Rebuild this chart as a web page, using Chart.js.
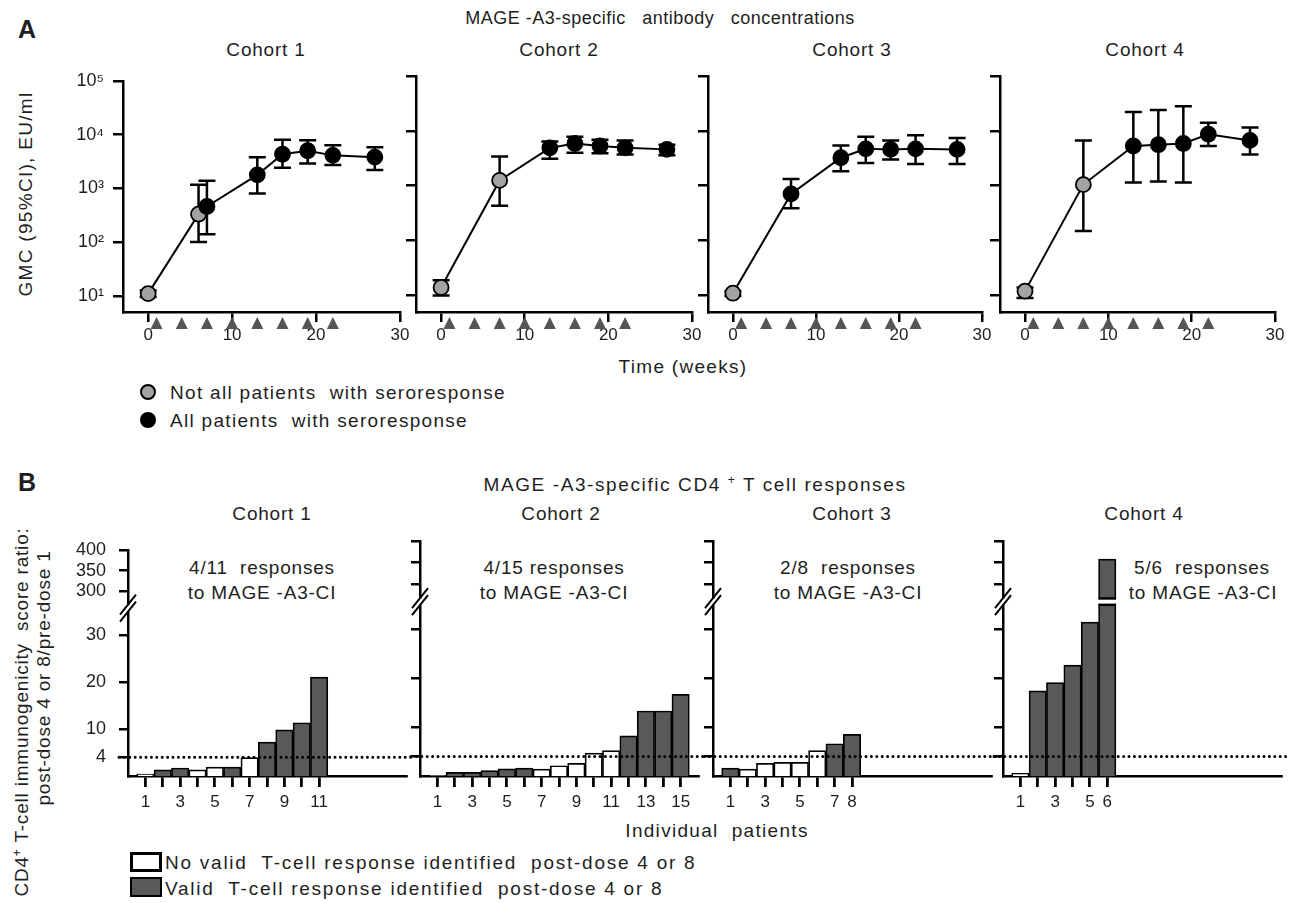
<!doctype html>
<html lang="en">
  <head>
    <meta charset="UTF-8" />
    <title>MAGE-A3 antibody and CD4+ T cell responses</title>
    <script src="https://cdn.jsdelivr.net/npm/chart.js"></script>
    <style>
      body {
        margin: 0;
        width: 1297px;
        height: 903px;
        position: relative;
        overflow: hidden;
        background: #fff;
        font-family: "Liberation Sans", Arial, Helvetica, sans-serif;
        color: #1e1e1e;
      }
      canvas { position: absolute; }
      .t {
        position: absolute;
        white-space: pre;
        font-size: 19px;
        letter-spacing: 0.8px;
        line-height: 1;
        transform: translate(-50%, -50%);
      }
      .l { transform: translate(0, -50%); }
      .rot { transform: translate(-50%, -50%) rotate(-90deg); }
      .big { font-weight: bold; font-size: 25px; letter-spacing: 0; }
      .wide { letter-spacing: 1.3px; }
      .leg { letter-spacing: 1.75px; }
      sup { font-size: 12px; vertical-align: 7px; line-height: 0; }
      .mk { position: absolute; box-sizing: border-box; }
    </style>
  </head>
  <body>
    <!-- panel A text -->
    <div class="t big" style="left:27px;top:29px">A</div>
    <div class="t" style="left:660px;top:18px;font-size:18px;letter-spacing:0.5px">MAGE -A3-specific   antibody   concentrations</div>
    <div class="t" style="left:266px;top:49px">Cohort 1</div>
    <div class="t" style="left:559px;top:49px">Cohort 2</div>
    <div class="t" style="left:852px;top:49px">Cohort 3</div>
    <div class="t" style="left:1145px;top:49px">Cohort 4</div>
    <div class="t rot wide" style="left:25px;top:194px">GMC (95%CI), EU/ml</div>
    <div class="t wide" style="left:683px;top:366px">Time (weeks)</div>
    <div class="mk" style="left:140px;top:384px;width:16px;height:16px;border-radius:50%;background:#a3a3a3;border:2.5px solid #000"></div>
    <div class="t l wide" style="left:170px;top:392px">Not all patients  with seroresponse</div>
    <div class="mk" style="left:140px;top:412px;width:16px;height:16px;border-radius:50%;background:#000"></div>
    <div class="t l wide" style="left:170px;top:420px">All patients  with seroresponse</div>

    <!-- panel B text -->
    <div class="t big" style="left:27px;top:482px">B</div>
    <div class="t" style="left:695px;top:484px;letter-spacing:1.6px">MAGE -A3-specific CD4 <sup>+</sup> T cell responses</div>
    <div class="t" style="left:272px;top:513px">Cohort 1</div>
    <div class="t" style="left:561px;top:513px">Cohort 2</div>
    <div class="t" style="left:852px;top:513px">Cohort 3</div>
    <div class="t" style="left:1144px;top:513px">Cohort 4</div>
    <div class="t" style="left:262px;top:567px">4/11  responses</div>
    <div class="t" style="left:262px;top:592px">to MAGE -A3-CI</div>
    <div class="t" style="left:554px;top:567px">4/15 responses</div>
    <div class="t" style="left:554px;top:592px">to MAGE -A3-CI</div>
    <div class="t" style="left:848px;top:567px">2/8  responses</div>
    <div class="t" style="left:848px;top:592px">to MAGE -A3-CI</div>
    <div class="t" style="left:1202px;top:567px">5/6  responses</div>
    <div class="t" style="left:1203px;top:592px">to MAGE -A3-CI</div>
    <div class="t rot" style="left:21px;top:712px">CD4<sup>+</sup> T-cell immunogenicity  score ratio:</div>
    <div class="t rot" style="left:43px;top:678px">post-dose 4 or 8/pre-dose 1</div>
    <div class="t wide" style="left:717px;top:830px">Individual  patients</div>
    <div class="mk" style="left:130px;top:852px;width:32px;height:20px;background:#fff;border:3px solid #000"></div>
    <div class="t l leg" style="left:165px;top:862px">No valid  T-cell response identified  post-dose 4 or 8</div>
    <div class="mk" style="left:130px;top:877px;width:32px;height:20px;background:#595959;border:2px solid #000"></div>
    <div class="t l leg" style="left:165px;top:888px">Valid  T-cell response identified  post-dose 4 or 8</div>

    <script>
      // ---- panel A: GMC with 95% CI, by week ----
      const c1Weeks = [0, 6, 7, 13, 16, 19, 22, 27];
      const c1Gmc = [11, 330, 460, 1780, 4300, 5000, 4100, 3800];
      const c1Lo = [9.5, 100, 140, 800, 2400, 2900, 2700, 2200];
      const c1Hi = [12.5, 1170, 1380, 3800, 8000, 7800, 6300, 5800];
      const c1All = [false, false, true, true, true, true, true, true];

      const c2Weeks = [0, 7, 13, 16, 19, 22, 27];
      const c2Gmc = [14, 1250, 4900, 5900, 5300, 4900, 4600];
      const c2Lo = [10, 430, 3100, 4000, 3900, 3700, 3600];
      const c2Hi = [19, 3400, 6400, 7800, 6900, 6700, 5600];
      const c2All = [false, false, true, true, true, true, true];

      const c3Weeks = [0, 7, 13, 16, 19, 22, 27];
      const c3Gmc = [11, 710, 3240, 4700, 4600, 4700, 4600];
      const c3Lo = [9.8, 390, 1830, 2600, 3000, 2500, 2500];
      const c3Hi = [12, 1330, 5400, 7800, 6700, 8300, 7400];
      const c3All = [false, true, true, true, true, true, true];

      const c4Weeks = [0, 7, 13, 16, 19, 22, 27];
      const c4Gmc = [12, 1050, 5300, 5600, 5900, 8700, 6700];
      const c4Lo = [9, 150, 1150, 1200, 1150, 5300, 3700];
      const c4Hi = [14, 6700, 22000, 24000, 28000, 14000, 11500];
      const c4All = [false, false, true, true, true, true, true];

      const doseWeeks = [1, 4, 7, 10, 13, 16, 19, 22];
      const xTicksA = [0, 10, 20, 30];
      const yTicksA = [10, 100, 1000, 10000, 100000];
      const yTickLabelsA = ["10¹", "10²", "10³", "10⁴", "10⁵"];

      // ---- panel B: score ratio per patient ----
      const b1Ratio = [0.4, 1.3, 1.7, 1.3, 1.9, 1.9, 3.9, 7.2, 9.8, 11.3, 21.0];
      const b1Valid = [false, true, true, false, false, true, false, true, true, true, true];
      const b2Ratio = [0.1, 0.75, 0.75, 1.1, 1.45, 1.6, 1.4, 2.1, 2.6, 4.7, 5.2, 8.2, 13.3, 13.3, 16.7];
      const b2Valid = [false, true, true, true, true, true, false, false, false, false, false, true, true, true, true];
      const b3Ratio = [1.6, 1.4, 2.6, 2.8, 2.8, 5.2, 6.6, 8.5];
      const b3Valid = [true, false, false, false, false, false, true, true];
      const b4Ratio = [0.55, 17.4, 19.1, 22.7, 31.5, 358];
      const b4Valid = [false, true, true, true, true, true];
      const bTickLabels = [[1, 3, 5, 7, 9, 11], [1, 3, 5, 7, 9, 11, 13, 15], [1, 3, 5, 7, 8], [1, 3, 5, 6]];
      const yTicksB = [4, 10, 20, 30, 300, 350, 400];
      const bThreshold = 4;

      const FONT = "'Liberation Sans', Arial, Helvetica, sans-serif";
      const TXT = "#1e1e1e";
      const DARK = "#595959";
      Chart.defaults.font.family = FONT;
      Chart.defaults.color = TXT;

      // broken y axis: 0-35 below the break, 267-400 above it
      const BREAK_LO = 35, BREAK_HI = 267, Y_TOP = 400;
      const F_LO = 0.728, F_HI = 0.756;
      function toFrac(v) {
        if (v <= BREAK_LO) return (v / BREAK_LO) * F_LO;
        if (v < BREAK_HI) return F_LO + ((v - BREAK_LO) / (BREAK_HI - BREAK_LO)) * (F_HI - F_LO);
        return F_HI + ((v - BREAK_HI) / (Y_TOP - BREAK_HI)) * (1 - F_HI);
      }
      function fromFrac(f) {
        if (f <= F_LO) return (f / F_LO) * BREAK_LO;
        if (f < F_HI) return BREAK_LO + ((f - F_LO) / (F_HI - F_LO)) * (BREAK_HI - BREAK_LO);
        return BREAK_HI + ((f - F_HI) / (1 - F_HI)) * (Y_TOP - BREAK_HI);
      }
      class BrokenScale extends Chart.LinearScale {
        getPixelForValue(v) {
          return this.getPixelForDecimal(toFrac(v));
        }
        getValueForPixel(p) {
          return fromFrac(this.getDecimalForPixel(p));
        }
      }
      BrokenScale.id = "broken";
      BrokenScale.defaults = {};
      Chart.register(BrokenScale);

      function makeCanvas(left, top, w, h) {
        const c = document.createElement("canvas");
        c.width = w;
        c.height = h;
        c.style.left = left + "px";
        c.style.top = top + "px";
        document.body.appendChild(c);
        return c.getContext("2d");
      }

      function errorBars(weeks, lo, hi) {
        return {
          id: "errorBars",
          beforeDatasetsDraw(chart) {
            const { ctx, scales: { x, y } } = chart;
            ctx.save();
            ctx.strokeStyle = "#000";
            ctx.lineWidth = 2.5;
            weeks.forEach((w, i) => {
              const px = x.getPixelForValue(w);
              const top = y.getPixelForValue(hi[i]);
              const bot = y.getPixelForValue(lo[i]);
              ctx.beginPath();
              ctx.moveTo(px, top);
              ctx.lineTo(px, bot);
              ctx.moveTo(px - 8.5, top);
              ctx.lineTo(px + 8.5, top);
              ctx.moveTo(px - 8.5, bot);
              ctx.lineTo(px + 8.5, bot);
              ctx.stroke();
            });
            ctx.restore();
          },
        };
      }

      const doseMarks = {
        id: "doseMarks",
        afterDraw(chart) {
          const { ctx, chartArea, scales: { x } } = chart;
          ctx.save();
          ctx.fillStyle = "#555";
          doseWeeks.forEach((w) => {
            const px = x.getPixelForValue(w);
            const top = chartArea.bottom + 5;
            ctx.beginPath();
            ctx.moveTo(px, top);
            ctx.lineTo(px + 6, top + 12);
            ctx.lineTo(px - 6, top + 12);
            ctx.closePath();
            ctx.fill();
          });
          ctx.restore();
        },
      };

      const bExtras = {
        id: "bExtras",
        afterDatasetsDraw(chart) {
          const { ctx, chartArea: a, scales: { y } } = chart;
          const yLo = y.getPixelForValue(BREAK_LO);
          const yHi = y.getPixelForValue(BREAK_HI);
          const vals = chart.data.datasets[0].data;
          ctx.save();
          chart.getDatasetMeta(0).data.forEach((bar, i) => {
            if (vals[i].y <= BREAK_LO) return;
            const l = bar.x - bar.width / 2;
            ctx.fillStyle = "#fff";
            ctx.fillRect(l - 1, yHi + 1.2, bar.width + 2, yLo - yHi - 2.4);
            ctx.strokeStyle = "#000";
            ctx.lineWidth = 2.2;
            ctx.beginPath();
            ctx.moveTo(l, yHi);
            ctx.lineTo(l + bar.width, yHi);
            ctx.moveTo(l, yLo);
            ctx.lineTo(l + bar.width, yLo);
            ctx.stroke();
          });
          const y4 = y.getPixelForValue(bThreshold);
          ctx.strokeStyle = "#000";
          ctx.lineWidth = 3;
          ctx.lineCap = "round";
          ctx.setLineDash([0, 5.4]);
          ctx.beginPath();
          ctx.moveTo(a.left - 9, y4);
          ctx.lineTo(a.right + 8, y4);
          ctx.stroke();
          ctx.restore();
        },
        afterDraw(chart) {
          const { ctx, chartArea: a, scales: { y } } = chart;
          const yLo = y.getPixelForValue(BREAK_LO);
          const yHi = y.getPixelForValue(BREAK_HI);
          const yc = (yLo + yHi) / 2;
          ctx.save();
          ctx.fillStyle = "#fff";
          ctx.fillRect(a.left - 2.5, yc - 3, 5, 6);
          ctx.strokeStyle = "#000";
          ctx.lineWidth = 2;
          [-3.5, 3.5].forEach((dy) => {
            ctx.beginPath();
            ctx.moveTo(a.left - 8, yc + dy + 10);
            ctx.lineTo(a.left + 8, yc + dy - 10);
            ctx.stroke();
          });
          ctx.restore();
        },
      };

      const axisStyle = (tickLength) => ({
        border: { color: "#000", width: 2.5 },
        grid: { drawOnChartArea: false, color: "#000", lineWidth: 2.5, tickLength: tickLength },
      });

      // ---- draw panel A ----
      const cohortsA = [
        [c1Weeks, c1Gmc, c1Lo, c1Hi, c1All],
        [c2Weeks, c2Gmc, c2Lo, c2Hi, c2All],
        [c3Weeks, c3Gmc, c3Lo, c3Hi, c3All],
        [c4Weeks, c4Gmc, c4Lo, c4Hi, c4All],
      ];
      const aLeft = [123, 415.5, 707.5, 1000];
      const aWidth = [277, 276, 274, 275];
      cohortsA.forEach(([weeks, gmc, lo, hi, all], k) => {
        const ctx = makeCanvas(aLeft[k] - 70, 61, 70 + aWidth[k] + 15, 15 + 236 + 40);
        new Chart(ctx, {
          type: "line",
          data: {
            datasets: [
              {
                data: weeks.map((w, i) => ({ x: w, y: gmc[i] })),
                borderColor: "#000",
                borderWidth: 2,
                pointRadius: 7.5,
                pointBorderWidth: 1.8,
                pointBorderColor: "#000",
                pointBackgroundColor: all.map((a) => (a ? "#000" : "#a3a3a3")),
                clip: false,
              },
            ],
          },
          options: {
            responsive: false,
            animation: false,
            events: [],
            layout: { padding: { top: 15, right: 15, left: 0, bottom: 0 } },
            plugins: { legend: { display: false }, tooltip: { enabled: false } },
            scales: {
              x: {
                type: "linear",
                min: -3,
                max: 30,
                afterBuildTicks: (s) => { s.ticks = xTicksA.map((v) => ({ value: v })); },
                afterFit: (s) => { s.height = 40; },
                ...axisStyle(10),
                ticks: { color: TXT, font: { size: 17 }, padding: 3, maxRotation: 0, autoSkip: false },
              },
              y: {
                type: "logarithmic",
                min: 5,
                max: 100000,
                afterBuildTicks: (s) => { s.ticks = yTicksA.map((v) => ({ value: v })); },
                afterFit: (s) => { s.width = 70; },
                ...axisStyle(10),
                ticks: {
                  display: k === 0,
                  color: TXT,
                  font: { size: 18 },
                  padding: 9,
                  autoSkip: false,
                  callback: (v, i) => yTickLabelsA[i],
                },
              },
            },
          },
          plugins: [errorBars(weeks, lo, hi), doseMarks],
        });
      });

      // ---- draw panel B ----
      const cohortsB = [
        [b1Ratio, b1Valid],
        [b2Ratio, b2Valid],
        [b3Ratio, b3Valid],
        [b4Ratio, b4Valid],
      ];
      const bLeft = [127.5, 420, 712.5, 1003];
      cohortsB.forEach(([ratio, valid], k) => {
        const ctx = makeCanvas(bLeft[k] - 70, 526, 70 + 278 + 15, 15 + 235 + 40);
        new Chart(ctx, {
          type: "bar",
          data: {
            datasets: [
              {
                data: ratio.map((v, i) => ({ x: i + 1, y: v })),
                backgroundColor: valid.map((f) => (f ? DARK : "#fff")),
                borderColor: "#000",
                borderWidth: 1.7,
                borderSkipped: "start",
                barPercentage: 1,
                categoryPercentage: 1,
              },
            ],
          },
          options: {
            responsive: false,
            animation: false,
            events: [],
            layout: { padding: { top: 15, right: 15, left: 0, bottom: 0 } },
            plugins: { legend: { display: false }, tooltip: { enabled: false } },
            scales: {
              x: {
                type: "linear",
                min: 0,
                max: 16,
                offset: false,
                afterBuildTicks: (s) => { s.ticks = ratio.map((v, i) => ({ value: i + 1 })); },
                afterFit: (s) => { s.height = 40; },
                border: { color: "#000", width: 2.5 },
                grid: { offset: false, drawOnChartArea: false, color: "#000", lineWidth: 2.8, tickLength: 11 },
                ticks: {
                  color: TXT,
                  font: { size: 17 },
                  padding: 5,
                  maxRotation: 0,
                  autoSkip: false,
                  callback: (v) => (bTickLabels[k].includes(v) ? String(v) : ""),
                },
              },
              y: {
                type: "broken",
                min: 0,
                max: Y_TOP,
                afterBuildTicks: (s) => { s.ticks = yTicksB.map((v) => ({ value: v })); },
                afterFit: (s) => { s.width = 70; },
                ...axisStyle(9),
                ticks: { display: k === 0, color: TXT, font: { size: 18 }, padding: 13, autoSkip: false },
              },
            },
          },
          plugins: [bExtras],
        });
      });
    </script>
  </body>
</html>
